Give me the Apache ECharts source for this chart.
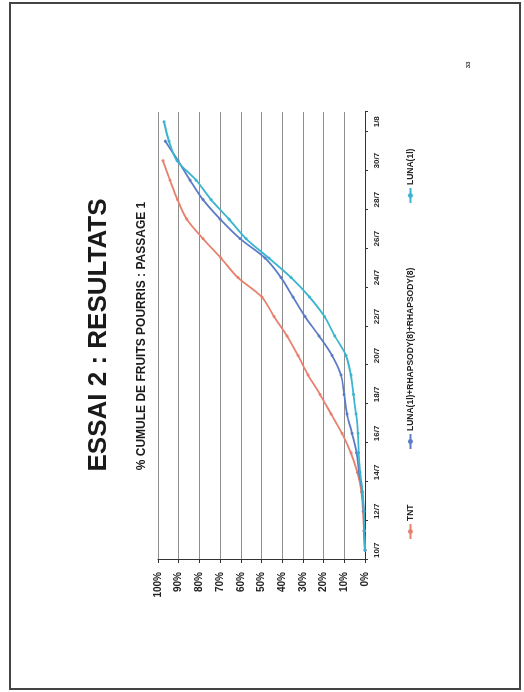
<!DOCTYPE html>
<html>
<head>
<meta charset="utf-8">
<script src="https://cdn.jsdelivr.net/npm/echarts@6/dist/echarts.min.js"></script>
<style>
html,body{margin:0;padding:0;background:#fff;width:524px;height:692px;overflow:hidden;}
#c{position:absolute;left:0;top:0;width:692px;height:524px;transform-origin:0 0;transform:translateY(692px) rotate(-90deg);}
</style>
</head>
<body>
<div id="c"></div>
<script>
// Categories (daily, 10/7 -> 1/8), labels shown every other day
const categories = ['10/7','11/7','12/7','13/7','14/7','15/7','16/7','17/7','18/7','19/7','20/7','21/7','22/7','23/7','24/7','25/7','26/7','27/7','28/7','29/7','30/7','31/7','1/8'];
const seriesNames = ['TNT','LUNA(1l)+RHAPSODY(8)+RHAPSODY(8)','LUNA(1l)'];
const tnt  = [0, 0.5, 1.0, 1.7, 3.7, 6.8, 11.1, 16.4, 21.7, 27.5, 32.4, 37.7, 44.0, 49.8, 61.4, 69.6, 78.3, 86.1, 90.6, 94.2, 97.6, null, null];
const lunaRhap = [0, 0.5, 0.7, 1.4, 2.9, 4.1, 6.3, 8.7, 10.1, 11.6, 15.9, 22.2, 29.0, 34.8, 40.6, 48.3, 60.4, 70.0, 78.3, 84.5, 90.3, 96.5, null];
const luna = [0, 0.3, 0.5, 1.2, 2.4, 3.1, 3.4, 4.3, 5.6, 6.8, 9.2, 14.6, 19.6, 26.8, 35.7, 46.4, 57.5, 65.7, 74.4, 81.6, 90.8, 94.7, 97.1];
const yTicks = [0, 100, 10]; // min, max, interval (%)
const colors = ['#E8806E', '#5B7BC6', '#3BB5CF'];

const chart = echarts.init(document.getElementById('c'), null, {renderer:'canvas', width:692, height:524});
const F = '"Liberation Sans", Arial, sans-serif';
const mkSeries = (name, data, color) => ({
  name, type:'line', data, smooth:0.3, connectNulls:false,
  symbol:'circle', symbolSize:3,
  lineStyle:{color, width:1.8}, itemStyle:{color},
  emphasis:{disabled:true}
});
const legendBase = {orient:'horizontal', top:406, itemWidth:15, itemHeight:6, itemGap:5,
  textStyle:{fontFamily:F, fontWeight:'bold', fontSize:8.5, color:'#222', padding:[0,0,0,-2]}, padding:0};
chart.setOption({
  backgroundColor:'#fff',
  animation:false,
  color: colors,
  grid:{left:132, right:112, top:158, bottom:159, containLabel:false},
  xAxis:{type:'category', data:categories, boundaryGap:true,
    axisLine:{lineStyle:{color:'#333', width:1}},
    axisTick:{show:true, interval:1, length:3, lineStyle:{color:'#333'}},
    axisLabel:{interval:1, margin:8, fontFamily:F, fontWeight:'bold', fontSize:8, color:'#222'}},
  yAxis:{type:'value', min:yTicks[0], max:yTicks[1], interval:yTicks[2],
    axisLine:{show:true, lineStyle:{color:'#333', width:1}},
    axisTick:{show:true, length:3, lineStyle:{color:'#333'}},
    splitLine:{lineStyle:{color:'#8f8f8f', width:1}},
    axisLabel:{formatter:'{value}%', margin:12, fontFamily:F, fontWeight:'bold', fontSize:10, color:'#222'}},
  legend:[
    Object.assign({}, legendBase, {left:152, data:[seriesNames[0]]}),
    Object.assign({}, legendBase, {left:242, data:[seriesNames[1]]}),
    Object.assign({}, legendBase, {left:488, data:[seriesNames[2]]})
  ],
  graphic:[
    {type:'rect', shape:{x:3, y:10, width:686, height:510}, style:{fill:'none', stroke:'#444', lineWidth:2}},
    {type:'text', x:357, y:99, style:{text:'ESSAI 2 : RESULTATS', font:'bold 26px '+F, fill:'#1a1a1a', align:'center', verticalAlign:'middle', textAlign:'center', textVerticalAlign:'middle'}},
    {type:'text', x:356, y:142, style:{text:'% CUMULE DE FRUITS POURRIS : PASSAGE 1', font:'bold 12px '+F, fill:'#1a1a1a', align:'center', verticalAlign:'middle', textAlign:'center', textVerticalAlign:'middle'}},
    {type:'text', x:627, y:468, style:{text:'33', font:'bold 6px '+F, fill:'#333', align:'center', verticalAlign:'middle', textAlign:'center', textVerticalAlign:'middle'}}
  ],
  series:[
    mkSeries(seriesNames[0], tnt, colors[0]),
    mkSeries(seriesNames[1], lunaRhap, colors[1]),
    mkSeries(seriesNames[2], luna, colors[2])
  ]
});
</script>
</body>
</html>
